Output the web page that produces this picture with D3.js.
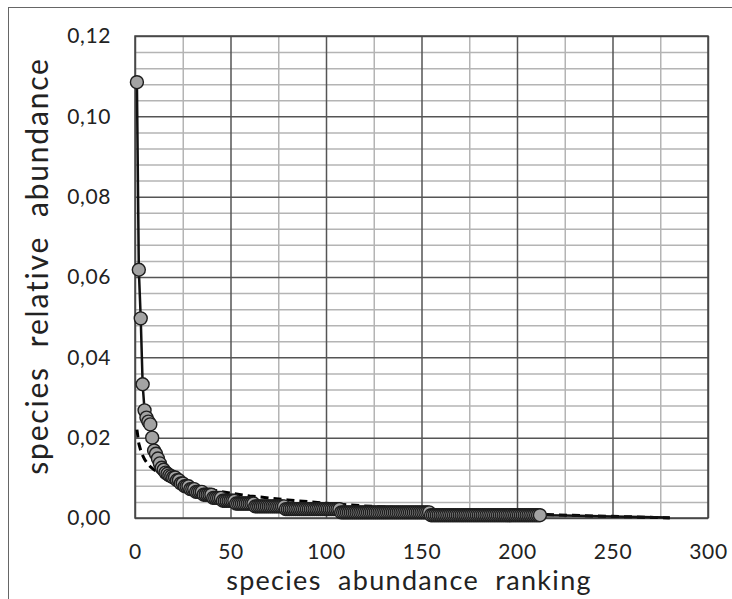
<!DOCTYPE html>
<html>
<head>
<meta charset="utf-8">
<script src="https://cdn.jsdelivr.net/npm/d3@7"></script>
<style>
  html, body { margin: 0; padding: 0; background: #fff; }
  svg text { font-family: Lato, "Open Sans", sans-serif; fill: #222; white-space: pre; }
</style>
</head>
<body>
<svg id="chart" width="732" height="599"></svg>
<script>
// ---- data ----
// observed relative abundance of each species, by rank 1..212
const observed = [
  0.1085, 0.0618, 0.0497, 0.0333, 0.0268, 0.0250, 0.0240, 0.0233, 0.0200, 0.0168,
  0.0160, 0.0148, 0.0136, 0.0125, 0.0120, 0.0113, 0.0110, 0.0106, 0.0104, 0.0101,
  0.0101, 0.0094, 0.0094, 0.0086, 0.0086, 0.0079, 0.0079, 0.0079, 0.0072, 0.0072,
  0.0072, 0.0065, 0.0065, 0.0065, 0.0065, 0.0058, 0.0058, 0.0058, 0.0058, 0.0058,
  0.0050, 0.0050, 0.0050, 0.0050, 0.0050,
  0.0043, 0.0043, 0.0043, 0.0043, 0.0043, 0.0043, 0.0043,
  0.0036, 0.0036, 0.0036, 0.0036, 0.0036, 0.0036, 0.0036, 0.0036, 0.0036, 0.0036,
  0.0029, 0.0029, 0.0029, 0.0029, 0.0029, 0.0029, 0.0029, 0.0029,
  0.0029, 0.0029, 0.0029, 0.0029, 0.0029, 0.0029, 0.0029, 0.0029,
  0.0022, 0.0022, 0.0022, 0.0022, 0.0022, 0.0022, 0.0022, 0.0022, 0.0022, 0.0022,
  0.0022, 0.0022, 0.0022, 0.0022, 0.0022, 0.0022, 0.0022, 0.0022, 0.0022, 0.0022,
  0.0022, 0.0022, 0.0022, 0.0022, 0.0022, 0.0022, 0.0022, 0.0022, 0.0022,
  0.0014, 0.0014, 0.0014, 0.0014, 0.0014, 0.0014, 0.0014, 0.0014, 0.0014, 0.0014,
  0.0014, 0.0014, 0.0014, 0.0014, 0.0014, 0.0014, 0.0014, 0.0014, 0.0014, 0.0014,
  0.0014, 0.0014, 0.0014, 0.0014, 0.0014, 0.0014, 0.0014, 0.0014, 0.0014, 0.0014,
  0.0014, 0.0014, 0.0014, 0.0014, 0.0014, 0.0014, 0.0014, 0.0014, 0.0014, 0.0014,
  0.0014, 0.0014, 0.0014, 0.0014, 0.0014, 0.0014, 0.0014,
  0.0007, 0.0007, 0.0007, 0.0007, 0.0007, 0.0007, 0.0007, 0.0007, 0.0007, 0.0007,
  0.0007, 0.0007, 0.0007, 0.0007, 0.0007, 0.0007, 0.0007, 0.0007, 0.0007, 0.0007,
  0.0007, 0.0007, 0.0007, 0.0007, 0.0007, 0.0007, 0.0007, 0.0007, 0.0007, 0.0007,
  0.0007, 0.0007, 0.0007, 0.0007, 0.0007, 0.0007, 0.0007, 0.0007, 0.0007, 0.0007,
  0.0007, 0.0007, 0.0007, 0.0007, 0.0007, 0.0007, 0.0007, 0.0007, 0.0007, 0.0007,
  0.0007, 0.0007, 0.0007, 0.0007, 0.0007, 0.0007, 0.0007, 0.0007
];
// solid curve continuing past the last observed species
const tailRanks  = [225, 250, 280];
const tailValues = [0.00065, 0.0004, 0.0001];
// dashed model curve
const modelRanks  = [1, 2, 3, 4, 5, 6, 8, 10, 12, 15, 20, 25, 30, 40, 50, 60, 70, 80, 100, 120, 140, 160, 180, 200, 220, 240, 260, 280];
const modelValues = [0.0220, 0.0185, 0.0168, 0.0156, 0.0146, 0.0139, 0.0128, 0.0120, 0.0114, 0.0106, 0.0095, 0.0087, 0.0080, 0.0070, 0.0062, 0.0055, 0.0050, 0.0045, 0.0037, 0.0030, 0.0025, 0.0020, 0.0016, 0.0012, 0.0008, 0.0005, 0.0003, 0.0000];
// ticks
const xTicks = [0, 50, 100, 150, 200, 250, 300];
const yTicks = [0, 0.02, 0.04, 0.06, 0.08, 0.10, 0.12];
const xTitle = "species  abundance  ranking";
const yTitle = "species  relative  abundance";

// ---- layout ----
const svg = d3.select("#chart");
const L = 135, R = 708, T = 36, B = 518;
const x = d3.scaleLinear().domain([0, 300]).range([L, R]);
const y = d3.scaleLinear().domain([0, 0.12]).range([B, T]);
const fmt = d => d3.format(".2f")(d).replace(".", ",");

// outer frame
svg.append("rect").attr("x", 8.5).attr("y", 7.5).attr("width", 900).attr("height", 800)
  .attr("fill", "none").attr("stroke", "#666").attr("stroke-width", 1);

// minor gridlines
const g = svg.append("g");
g.append("g").attr("transform", `translate(0,${B})`)
  .call(d3.axisBottom(x).tickValues(d3.range(25, 300, 50)).tickSize(-(B - T)).tickFormat(""))
  .call(s => s.select(".domain").remove())
  .call(s => s.selectAll("line").attr("stroke", "#b4b4b4").attr("stroke-width", 1.5));
g.append("g").attr("transform", `translate(${L},0)`)
  .call(d3.axisLeft(y).tickValues(d3.range(0, 0.1201, 0.004).filter(v => Math.abs(v / 0.02 - Math.round(v / 0.02)) > 1e-6))
    .tickSize(-(R - L)).tickFormat(""))
  .call(s => s.select(".domain").remove())
  .call(s => s.selectAll("line").attr("stroke", "#b4b4b4").attr("stroke-width", 1.5));
// major gridlines
g.append("g").attr("transform", `translate(0,${B})`)
  .call(d3.axisBottom(x).tickValues(xTicks).tickSize(-(B - T)).tickFormat(""))
  .call(s => s.select(".domain").remove())
  .call(s => s.selectAll("line").attr("stroke", "#555").attr("stroke-width", 1.5));
g.append("g").attr("transform", `translate(${L},0)`)
  .call(d3.axisLeft(y).tickValues(yTicks).tickSize(-(R - L)).tickFormat(""))
  .call(s => s.select(".domain").remove())
  .call(s => s.selectAll("line").attr("stroke", "#555").attr("stroke-width", 1.5));
svg.append("rect").attr("x", L).attr("y", T).attr("width", R - L).attr("height", B - T)
  .attr("fill", "none").attr("stroke", "#444").attr("stroke-width", 1.5);

// tick labels via axes
const xa = svg.append("g").attr("transform", `translate(0,${B})`)
  .call(d3.axisBottom(x).tickValues(xTicks).tickSize(0).tickPadding(26).tickFormat(d3.format("d")));
xa.select(".domain").remove();
xa.selectAll("text").style("font-size", "21px").style("letter-spacing", "0.6px")
  .style("font-family", "Lato, sans-serif").attr("fill", "#222");
const ya = svg.append("g").attr("transform", `translate(${L},0)`)
  .call(d3.axisLeft(y).tickValues(yTicks).tickSize(0).tickPadding(24).tickFormat(fmt));
ya.select(".domain").remove();
ya.selectAll("text").style("font-size", "21px").style("letter-spacing", "0.6px")
  .style("font-family", "Lato, sans-serif").attr("fill", "#222");

// titles
svg.append("text").attr("x", 409).attr("y", 590).attr("text-anchor", "middle")
  .style("font-size", "27px").style("letter-spacing", "1.3px").text(xTitle);
svg.append("text").attr("transform", `translate(48,266) rotate(-90)`).attr("text-anchor", "middle")
  .style("font-size", "30px").style("letter-spacing", "1.8px").text(yTitle);

// curves
const pts = observed.map((v, i) => [i + 1, v]);
const solid = pts.concat(tailRanks.map((r, i) => [r, tailValues[i]]));
const model = modelRanks.map((r, i) => [r, modelValues[i]]);
const line = d3.line().x(d => x(d[0])).y(d => y(d[1]));

svg.append("path").datum(model).attr("d", line).attr("fill", "none")
  .attr("stroke", "#000").attr("stroke-width", 3).attr("stroke-dasharray", "8,5");
svg.append("path").datum(solid).attr("d", line).attr("fill", "none")
  .attr("stroke", "#111").attr("stroke-width", 2.5);

svg.append("g").selectAll("circle").data(pts).join("circle")
  .attr("cx", d => x(d[0])).attr("cy", d => y(d[1])).attr("r", 6.5)
  .attr("fill", "#a3a3a3").attr("stroke", "#1e1e1e").attr("stroke-width", 1.4);
</script>
</body>
</html>
